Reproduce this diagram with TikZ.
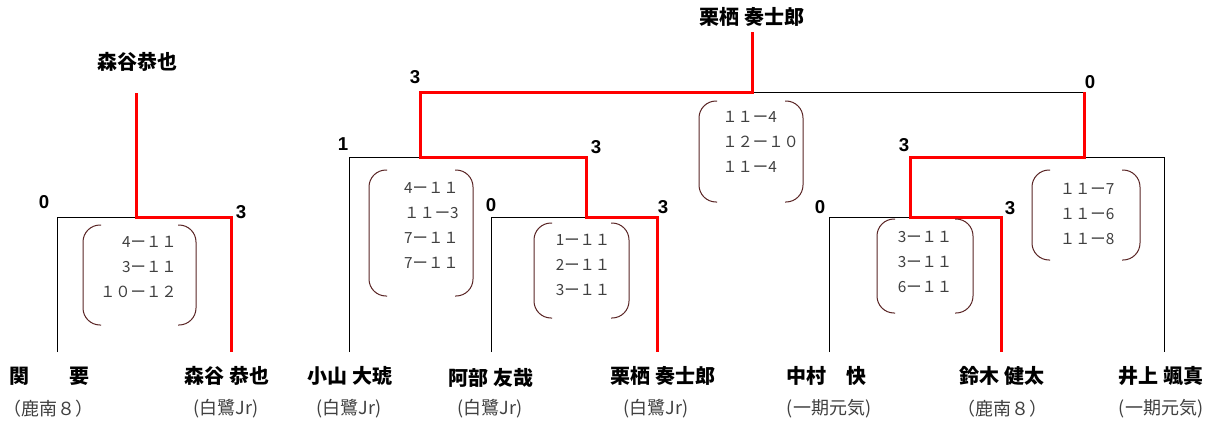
\documentclass[tikz,border=0pt]{standalone}
\usepackage{fontspec}
\setmainfont{Liberation Sans}
\newfontfamily\jp{Noto Sans CJK JP}
\definecolor{bcol}{HTML}{5A2525}
\definecolor{gtext}{HTML}{404040}
\begin{document}
\begin{tikzpicture}[x=0.75pt,y=-0.75pt,
  win/.style={draw=red, line width=2.25pt, line join=miter},
  lose/.style={draw=black, line width=0.75pt},
  pname/.style={font=\jp\bfseries\fontsize{15}{18}\selectfont, inner sep=0pt},
  club/.style={font=\jp\fontsize{13.5}{16}\selectfont, text=gtext, inner sep=0pt},
  score/.style={font=\bfseries\fontsize{14}{16}\selectfont, inner sep=0pt},
  games/.style={font=\jp\fontsize{11.5}{18.75}\selectfont, text=gtext, inner sep=0pt},
  brk/.style={draw=bcol, line width=0.75pt, rounded corners=12.75pt}]
\useasboundingbox[fill=white] (0,0) rectangle (1213,421);
\newcommand\bpair[4]{%
  \draw[brk] (#1+18,#2) -- (#1,#2) -- (#1,#4) -- (#1+18,#4);
  \draw[brk] (#3-18,#2) -- (#3,#2) -- (#3,#4) -- (#3-18,#4);}
% leaves
\coordinate (l1) at (57,352);
\coordinate (l2) at (231,352);
\coordinate (l3) at (349,352);
\coordinate (l4) at (491,352);
\coordinate (l5) at (657,352);
\coordinate (l6) at (829,352);
\coordinate (l7) at (1001,352);
\coordinate (l8) at (1164,352);
% corners / junctions
\coordinate (c1) at (57,217);
\coordinate (c2) at (231,217);
\coordinate (j12) at (136,217);
\coordinate (t12) at (136,93);
\coordinate (c4) at (491,217);
\coordinate (c5) at (657,217);
\coordinate (j45) at (586,217);
\coordinate (c3) at (349,157);
\coordinate (c45) at (586,157);
\coordinate (j35) at (420,157);
\coordinate (c6) at (829,217);
\coordinate (c7) at (1001,217);
\coordinate (j67) at (910,217);
\coordinate (c67) at (910,157);
\coordinate (c8) at (1164,157);
\coordinate (j68) at (1084,157);
\coordinate (cL) at (420,92);
\coordinate (cR) at (1084,92);
\coordinate (jT) at (752,92);
\coordinate (tT) at (752,32);
% losing lines
\draw[lose] (l1) -- (c1) -- (j12);
\draw[lose] (l3) -- (c3) -- (j35);
\draw[lose] (l4) -- (c4) -- (j45);
\draw[lose] (l6) -- (c6) -- (j67);
\draw[lose] (j68) -- (c8) -- (l8);
\draw[lose] (jT) -- (cR);
% winning lines
\draw[win] (t12) -- (j12) -- (c2) -- (l2);
\draw[win] (tT) -- (jT) -- (cL) -- (j35) -- (c45) -- (j45) -- (c5) -- (l5);
\draw[win] (cR) -- (j68) -- (c67) -- (j67) -- (c7) -- (l7);
% scores
\node[score] (s1) at (44,202) {0};
\node[score] (s2) at (241,212) {3};
\node[score] (s3) at (343,144) {1};
\node[score] (s45) at (596,147) {3};
\node[score] (s4) at (491,205) {0};
\node[score] (s5) at (663,207) {3};
\node[score] (sL) at (415,77) {3};
\node[score] (sR) at (1090,82) {0};
\node[score] (s67) at (904,145) {3};
\node[score] (s6) at (820,207) {0};
\node[score] (s7) at (1010,208) {3};
% game boxes
\bpair{83}{225}{196}{325}
\node[games, align=right, anchor=east] (g1) at (177,267) {4ー１１\\3ー１１\\１０ー１２};
\bpair{369}{170}{473}{296}
\node[games, align=right, anchor=east] (g2) at (459,225) {4ー１１\\１１ー3\\7ー１１\\7ー１１};
\bpair{534}{223}{629}{318}
\node[games, align=center] (g3) at (583,265) {1ー１１\\2ー１１\\3ー１１};
\bpair{699}{101}{803}{202}
\node[games, align=left, anchor=west] (g4) at (722,142) {１１ー4\\１２ー１０\\１１ー4};
\bpair{877}{219}{973}{313}
\node[games, align=center] (g5) at (925,262) {3ー１１\\3ー１１\\6ー１１};
\bpair{1032}{170}{1140}{260}
\node[games, align=center] (g6) at (1087,214) {１１ー7\\１１ー6\\１１ー8};
% champions
\node[pname] (w1) at (137,62) {森谷恭也};
\node[pname] (w2) at (752,17) {栗栖 奏士郎};
% players
\node[pname] (p1) at (49,376) {関　　要};
\node[pname] (p2) at (227,376) {森谷 恭也};
\node[pname] (p3) at (350,376) {小山 大琥};
\node[pname] (p4) at (491,378) {阿部 友哉};
\node[pname] (p5) at (663,376) {栗栖 奏士郎};
\node[pname] (p6) at (826,376) {中村　快};
\node[pname] (p7) at (1002,376) {鈴木 健太};
\node[pname] (p8) at (1161,376) {井上 颯真};
\node[club] (a1) at (48,409) {（鹿南８）};
\node[club] (a2) at (226,409) {(白鷺Jr)};
\node[club] (a3) at (349,409) {(白鷺Jr)};
\node[club] (a4) at (490,409) {(白鷺Jr)};
\node[club] (a5) at (656,409) {(白鷺Jr)};
\node[club] (a6) at (829,409) {(一期元気)};
\node[club] (a7) at (1002,409) {（鹿南８）};
\node[club] (a8) at (1161,409) {(一期元気)};
\end{tikzpicture}
\end{document}
